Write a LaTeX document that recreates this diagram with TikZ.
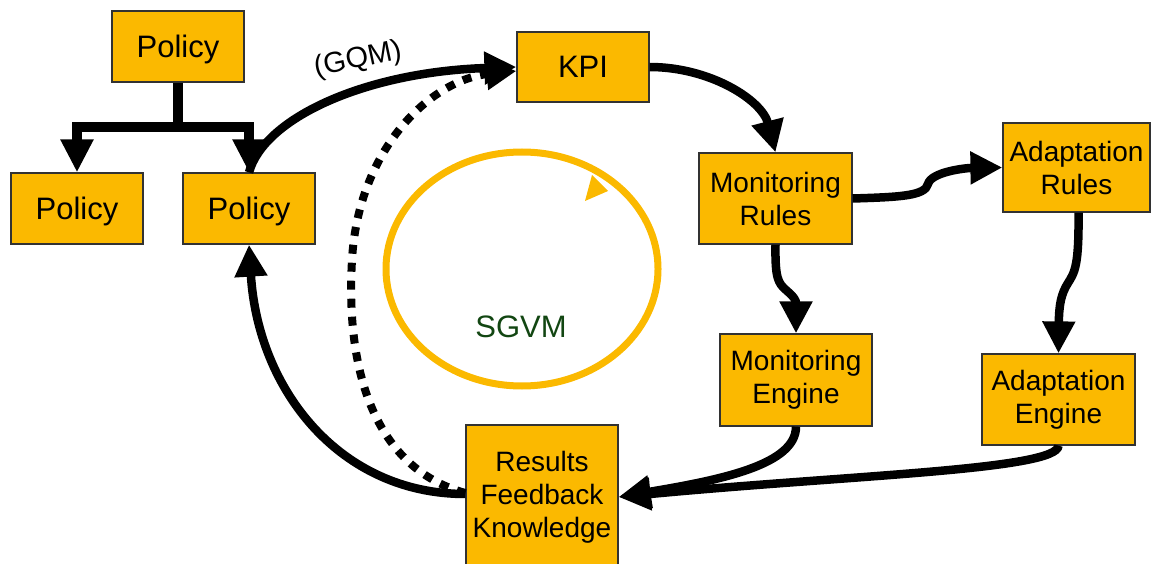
\documentclass[tikz,border=0pt]{standalone}
\usepackage{fontspec}
\setmainfont{Liberation Sans}
\usetikzlibrary{arrows.meta}
\definecolor{boxfill}{RGB}{251,185,0}
\definecolor{boxline}{RGB}{50,50,50}
\definecolor{loopgreen}{RGB}{18,70,18}
\begin{document}
\begin{tikzpicture}[x=1pt,y=-1pt,
  box/.style={draw=boxline,fill=boxfill,line width=1.2pt,inner sep=0pt,
              align=center,font=\fontsize{31}{36}\selectfont},
  oneline/.style={box,text depth=0pt},
  twoline/.style={box,font=\fontsize{28}{33}\selectfont},
  flow/.style={line width=8.5pt,-{Triangle[length=32pt,width=31pt]}},
  tree/.style={line width=9.5pt,-{Triangle[length=33pt,width=31pt]}},
  dotflow/.style={line width=8pt,dash pattern=on 9pt off 9pt,
                  -{Triangle[length=30pt,width=30pt]}},
  cycleline/.style={draw=boxfill,line width=7pt}]
\useasboundingbox (0,0) rectangle (1151,564);

% governance cycle
\draw[cycleline] (522,269) ellipse [x radius=136pt, y radius=117pt];
\fill[boxfill] (585,201) -- (608,191) -- (592,175) -- cycle;
\node[text=loopgreen,font=\fontsize{31}{36}\selectfont,text depth=0pt] (sgvm) at (521,327) {SGVM};

% boxes
\node[oneline,minimum width=132pt,minimum height=71pt] (ptop)  at (178,46.5)  {Policy};
\node[oneline,minimum width=132pt,minimum height=71pt] (pleft) at (77,208.5)  {Policy};
\node[oneline,minimum width=132pt,minimum height=71pt] (pmid)  at (249,208.5) {Policy};
\node[oneline,minimum width=132pt,minimum height=70pt] (kpi)   at (583,67)    {KPI};
\node[twoline,minimum width=153pt,minimum height=91pt] (mrules)  at (775.5,198.5)  {Monitoring\\Rules};
\node[twoline,minimum width=147pt,minimum height=89pt] (arules)  at (1076.5,167.5) {Adaptation\\Rules};
\node[twoline,minimum width=152pt,minimum height=92pt] (mengine) at (796,380)      {Monitoring\\Engine};
\node[twoline,minimum width=153pt,minimum height=91pt] (aengine) at (1058.5,399.5) {Adaptation\\Engine};
\node[twoline,minimum width=152pt,minimum height=144pt] (results) at (542,497)     {Results\\Feedback\\Knowledge};

% policy refinement tree
\coordinate (fork) at (178,127);
\draw[tree] (ptop.south) -- (fork) -| (pleft.north);
\draw[tree] (fork) -| (pmid.north);

% feedback (dotted) from results to KPI
\coordinate (dotmid) at (352,260);
\draw[dotflow] ([yshift=4pt]results.west) .. controls (380,470) and (345,380) .. (dotmid)
   .. controls (358,150) and (430,80) .. ([yshift=-4pt]kpi.west);

% policy to KPI via GQM
\draw[flow] (pmid.north) .. controls (264,118) and (365,72) .. (kpi.west);
\node[font=\fontsize{29}{32}\selectfont,rotate=12] (gqm) at (358,60) {(GQM)};

% main loop
\draw[flow] (kpi.east) .. controls (710,67) and (762,100) .. (mrules.north);
\coordinate (mrbend) at (928,184);
\draw[flow] (mrules.east) .. controls (900,197) and (925,196) .. (mrbend)
   .. controls (931,172) and (965,168) .. (arules.west);
\coordinate (mebend) at (786,290);
\draw[flow] (mrules.south) .. controls (775,278) and (778,283) .. (mebend)
   .. controls (794,297) and (796,300) .. (mengine.north);
\coordinate (aebend) at (1068,283);
\draw[flow] ([xshift=2pt]arules.south) .. controls (1079,265) and (1075,272) .. (aebend)
   .. controls (1061,294) and (1059,305) .. (aengine.north);
\draw[flow] (mengine.south) .. controls (796,465) and (720,480) .. (results.east);
\draw[flow] (aengine.south) .. controls (1058,470) and (850,475) .. (results.east);
\draw[flow] ([yshift=3pt]results.west) .. controls (340,494) and (258,390) .. (pmid.south);
\end{tikzpicture}
\end{document}
